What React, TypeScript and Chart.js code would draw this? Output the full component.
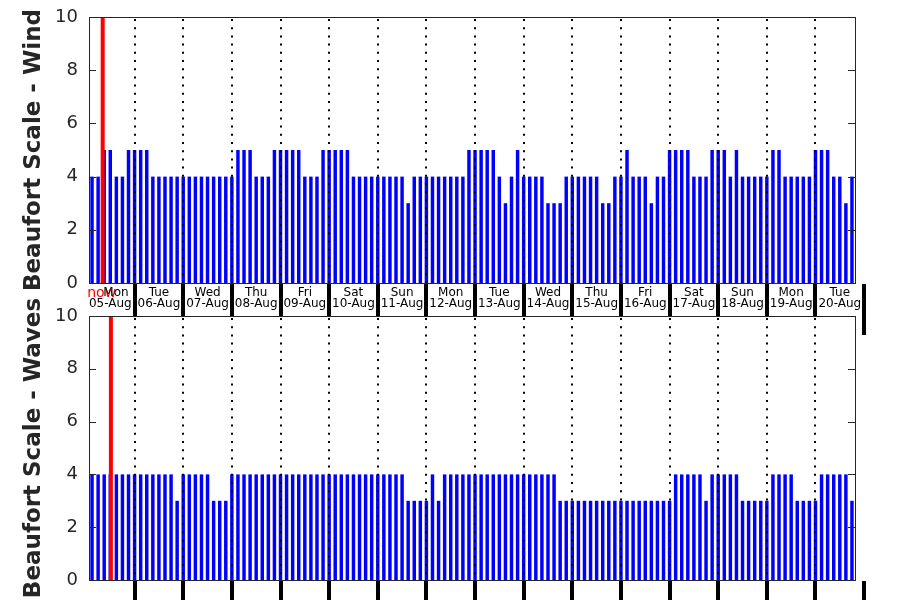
import React, { useEffect, useRef } from 'react';
import { Chart, registerables } from 'chart.js';

Chart.register(...registerables);

const dayNames = ['Mon', 'Tue', 'Wed', 'Thu', 'Fri', 'Sat', 'Sun', 'Mon', 'Tue', 'Wed', 'Thu', 'Fri', 'Sat', 'Sun', 'Mon', 'Tue'];
const dayDates = ['05-Aug', '06-Aug', '07-Aug', '08-Aug', '09-Aug', '10-Aug', '11-Aug', '12-Aug', '13-Aug', '14-Aug', '15-Aug', '16-Aug', '17-Aug', '18-Aug', '19-Aug', '20-Aug'];
const hours = ['00:00', '03:00', '06:00', '09:00', '12:00', '15:00', '18:00', '21:00'];
const firstHourOffset = 1; // series starts Mon 05-Aug 03:00

const windBeaufort = [
  4, 4, 5, 5, 4, 4, 5,
  5, 5, 5, 4, 4, 4, 4, 4,
  4, 4, 4, 4, 4, 4, 4, 4,
  4, 5, 5, 5, 4, 4, 4, 5,
  5, 5, 5, 5, 4, 4, 4, 5,
  5, 5, 5, 5, 4, 4, 4, 4,
  4, 4, 4, 4, 4, 3, 4, 4,
  4, 4, 4, 4, 4, 4, 4, 5,
  5, 5, 5, 5, 4, 3, 4, 5,
  4, 4, 4, 4, 3, 3, 3, 4,
  4, 4, 4, 4, 4, 3, 3, 4,
  4, 5, 4, 4, 4, 3, 4, 4,
  5, 5, 5, 5, 4, 4, 4, 5,
  5, 5, 4, 5, 4, 4, 4, 4,
  4, 5, 5, 4, 4, 4, 4, 4,
  5, 5, 5, 4, 4, 3, 4,
];

const wavesBeaufort = [
  4, 4, 4, 4, 4, 4, 4,
  4, 4, 4, 4, 4, 4, 4, 3,
  4, 4, 4, 4, 4, 3, 3, 3,
  4, 4, 4, 4, 4, 4, 4, 4,
  4, 4, 4, 4, 4, 4, 4, 4,
  4, 4, 4, 4, 4, 4, 4, 4,
  4, 4, 4, 4, 4, 3, 3, 3,
  3, 4, 3, 4, 4, 4, 4, 4,
  4, 4, 4, 4, 4, 4, 4, 4,
  4, 4, 4, 4, 4, 4, 3, 3,
  3, 3, 3, 3, 3, 3, 3, 3,
  3, 3, 3, 3, 3, 3, 3, 3,
  3, 4, 4, 4, 4, 4, 3, 4,
  4, 4, 4, 4, 3, 3, 3, 3,
  3, 4, 4, 4, 4, 3, 3, 3,
  3, 4, 4, 4, 4, 4, 3,
];

const nowIndexWind = 1.75;
const nowIndexWaves = 3.1;
const yTickValues = [0, 2, 4, 6, 8, 10];

const allSlots: string[] = [];
dayDates.forEach((d, di) => hours.forEach((h) => allSlots.push(`${dayNames[di]} ${d} ${h}`)));
const labels = allSlots.slice(firstHourOffset, firstHourOffset + windBeaufort.length);
const boundaryIdx: number[] = [];
labels.forEach((l, i) => { if (l.endsWith('00:00')) boundaryIdx.push(i); });
// next midnight after the last sample (drawn beyond the axis end)
const extraBoundary = boundaryIdx[boundaryIdx.length - 1] + hours.length;
const firstLabelIdx = labels.findIndex((l) => l.endsWith('12:00'));

const FONT = "'DejaVu Sans', 'Liberation Sans', sans-serif";
const AXIS = '#262626';

const decorPlugin = {
  id: 'panelDecor',
  beforeDraw(chart: any, _a: any, opts: any) {
    if (!opts.nowLabel) return;
    const { ctx, chartArea: ca } = chart;
    const x = chart.scales.x;
    const rx = x.getPixelForValue(opts.nowIndex);
    ctx.save();
    ctx.fillStyle = '#ff0000';
    ctx.font = '14px "DejaVu Sans"';
    ctx.textAlign = 'center';
    ctx.textBaseline = 'alphabetic';
    ctx.fillText('now', rx - 1, ca.bottom + 14);
    ctx.restore();
  },
  afterDatasetsDraw(chart: any, _a: any, opts: any) {
    const { ctx, chartArea: ca } = chart;
    const x = chart.scales.x;
    ctx.save();
    ctx.strokeStyle = '#000';
    ctx.lineWidth = 2;
    ctx.setLineDash([2, 6.2]);
    boundaryIdx.forEach((i) => {
      const px = Math.round(x.getPixelForValue(i));
      ctx.beginPath();
      ctx.moveTo(px, ca.top + 2);
      ctx.lineTo(px, ca.bottom);
      ctx.stroke();
    });
    ctx.setLineDash([]);
    const rx = x.getPixelForValue(opts.nowIndex);
    ctx.strokeStyle = '#ff0000';
    ctx.lineWidth = 4;
    ctx.beginPath();
    ctx.moveTo(rx, ca.top);
    ctx.lineTo(rx, ca.bottom);
    ctx.stroke();
    ctx.restore();
  },
  afterDraw(chart: any, _a: any, opts: any) {
    const { ctx, chartArea: ca } = chart;
    const x = chart.scales.x;
    const y = chart.scales.y;
    ctx.save();
    // frame
    ctx.strokeStyle = AXIS;
    ctx.lineWidth = 1;
    ctx.strokeRect(Math.round(ca.left) + 0.5, Math.round(ca.top) + 0.5, Math.round(ca.right - ca.left), Math.round(ca.bottom - ca.top));
    // inward y ticks
    yTickValues.forEach((v) => {
      const py = Math.round(y.getPixelForValue(v)) + 0.5;
      ctx.beginPath();
      ctx.moveTo(ca.left, py);
      ctx.lineTo(ca.left + 7, py);
      ctx.moveTo(ca.right, py);
      ctx.lineTo(ca.right - 7, py);
      ctx.stroke();
    });
    // thick outward day ticks
    ctx.strokeStyle = '#000';
    ctx.lineWidth = 4;
    boundaryIdx.forEach((i) => {
      const px = Math.round(x.getPixelForValue(i));
      ctx.beginPath();
      ctx.moveTo(px, ca.bottom + 1);
      ctx.lineTo(px, ca.bottom + opts.tickLen);
      ctx.stroke();
    });
    const ex = Math.round(x.getPixelForValue(extraBoundary));
    ctx.beginPath();
    ctx.moveTo(ex, ca.bottom + 1);
    ctx.lineTo(ex, ca.bottom + opts.lastTickLen);
    ctx.stroke();
    ctx.restore();
  },
};

function makeConfig(data: number[], title: string, opts: any): any {
  return {
    type: 'bar',
    data: {
      labels,
      datasets: [{
        data,
        backgroundColor: '#0000ff',
        borderWidth: 0,
        categoryPercentage: 1,
        barPercentage: 0.57,
      }],
    },
    options: {
      responsive: false,
      animation: false,
      layout: { padding: { left: 0, right: 45, top: opts.padTop, bottom: 0 } },
      plugins: {
        legend: { display: false },
        tooltip: { enabled: false },
        panelDecor: opts.decor,
      },
      scales: {
        x: {
          type: 'category',
          grid: { display: false, drawTicks: false },
          border: { display: false },
          afterFit: (s: any) => { s.height = opts.xHeight; },
          ticks: {
            display: opts.showLabels,
            autoSkip: false,
            maxRotation: 0,
            minRotation: 0,
            padding: 4,
            color: '#000',
            font: { family: FONT, size: 12, lineHeight: 0.92 },
            callback: (_v: any, i: number) => {
              const p = labels[i].split(' ');
              if (p[2] !== '12:00') return '';
              // first day's weekday is pushed right to leave room for the red "now" marker
              return [i === firstLabelIdx ? '\u00a0\u00a0\u00a0' + p[0] : p[0], p[1]];
            },
          },
        },
        y: {
          min: 0,
          max: 10,
          grid: { display: false, drawTicks: false },
          border: { display: false },
          afterFit: (s: any) => { s.width = 89; s.paddingTop = 0; s.paddingBottom = 0; },
          ticks: {
            stepSize: 2,
            padding: 11,
            color: AXIS,
            font: { family: FONT, size: 18 },
          },
          title: {
            display: true,
            text: title,
            color: AXIS,
            font: { family: FONT, size: 23, weight: 'bold' },
            padding: { top: 20, bottom: 0 },
          },
        },
      },
    },
    plugins: [decorPlugin],
  };
}

function Panel({ data, title, top, height, opts }: any) {
  const ref = useRef<HTMLCanvasElement>(null);
  useEffect(() => {
    const chart = new Chart(ref.current as HTMLCanvasElement, makeConfig(data, title, opts));
    return () => chart.destroy();
  }, []);
  return (
    <canvas
      ref={ref}
      width={900}
      height={height}
      style={{ position: 'absolute', left: 0, top, width: 900, height }}
    />
  );
}

export default function App() {
  return (
    <div style={{ position: 'fixed', left: 0, top: 0, width: 900, height: 600, background: '#fff', overflow: 'hidden' }}>
      <Panel
        data={windBeaufort}
        title="Beaufort Scale - Wind"
        top={0}
        height={340}
        opts={{ padTop: 17, xHeight: 57, showLabels: true, decor: { nowIndex: nowIndexWind, nowLabel: true, tickLen: 33, lastTickLen: 52 } }}
      />
      <Panel
        data={wavesBeaufort}
        title="Beaufort Scale - Waves"
        top={290}
        height={310}
        opts={{ padTop: 26, xHeight: 20, showLabels: false, decor: { nowIndex: nowIndexWaves, nowLabel: false, tickLen: 20, lastTickLen: 20 } }}
      />
    </div>
  );
}
